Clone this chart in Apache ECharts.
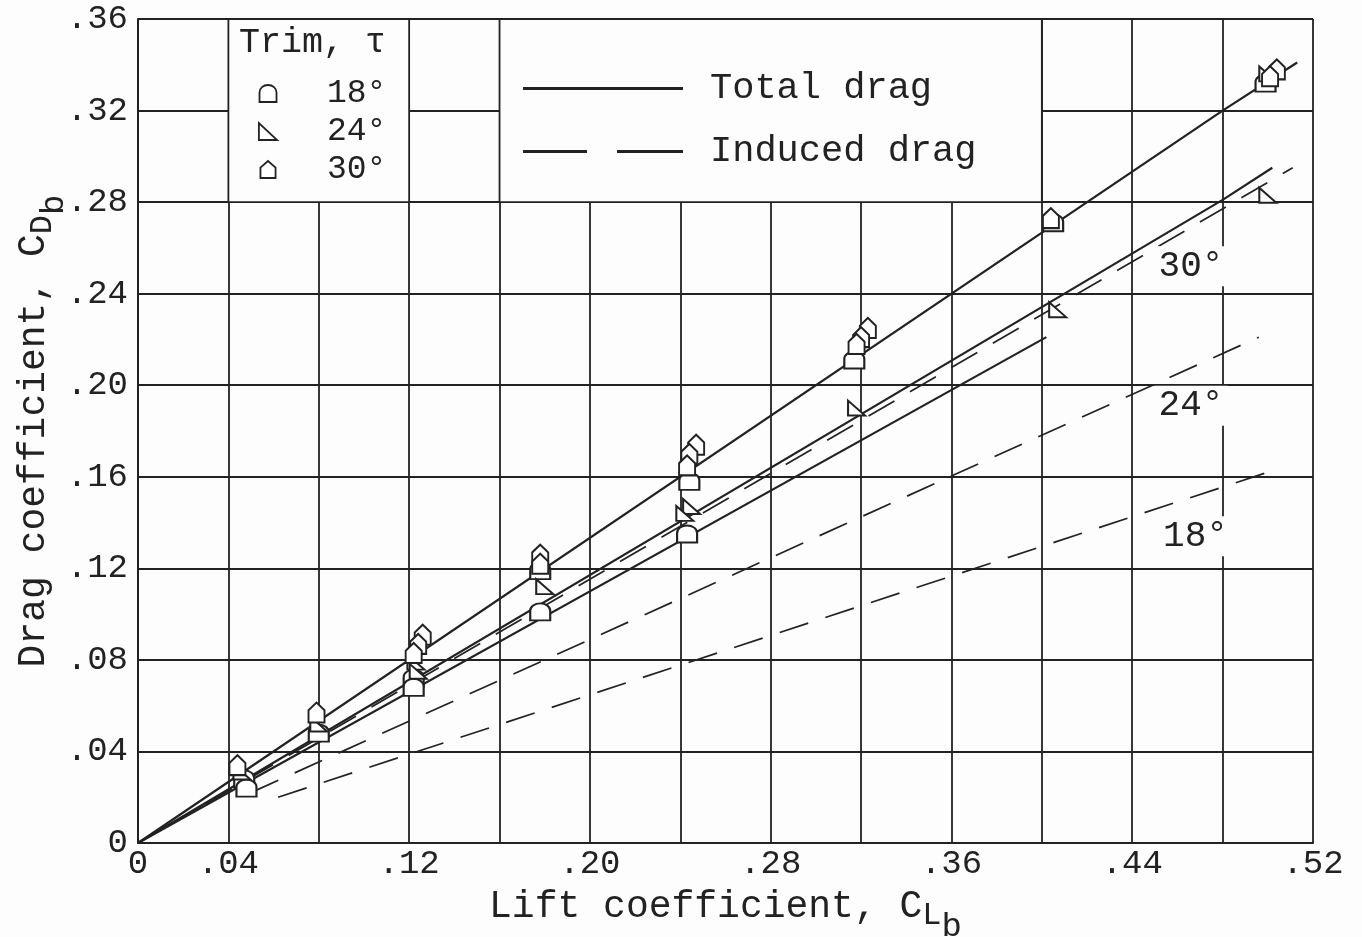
<!DOCTYPE html>
<html lang="en">
<head>
    <meta charset="UTF-8">
    <meta name="viewport" content="width=device-width, initial-scale=1.0">
    <title> Drag coefficient vs lift coefficient </title>
    <script src="https://cdn.jsdelivr.net/npm/echarts@6/dist/echarts.min.js"></script>
    <style>
      html, body { margin: 0; padding: 0; background: #fdfdfd; }
    </style>
</head>
<body>
    <div id="main" style="width: 1362px;height:937px;"></div>
    <script type="text/javascript">
      // tick labels (x axis only labels 0 then every .08 from .04)
      var xTickLabels = ['0', '.04', '', '.12', '', '.20', '', '.28', '', '.36', '', '.44', '', '.52'];
      var yTickLabels = ['0', '.04', '.08', '.12', '.16', '.20', '.24', '.28', '.32', '.36'];

      // measured points [C_Lb, C_Db] for each trim angle
      var trim18 = [[0.047, 0.028], [0.048, 0.024], [0.080, 0.048], [0.122, 0.072], [0.122, 0.068],
                    [0.178, 0.119], [0.178, 0.101], [0.244, 0.158], [0.243, 0.135], [0.317, 0.211],
                    [0.405, 0.271], [0.499, 0.332]];
      var trim24 = [[0.046, 0.031], [0.080, 0.052], [0.123, 0.079], [0.124, 0.075], [0.180, 0.112],
                    [0.245, 0.147], [0.242, 0.144], [0.318, 0.190], [0.407, 0.233], [0.500, 0.283],
                    [0.500, 0.336]];
      var trim30 = [[0.044, 0.034], [0.079, 0.057], [0.126, 0.091], [0.124, 0.087], [0.122, 0.083],
                    [0.178, 0.126], [0.178, 0.122], [0.247, 0.174], [0.244, 0.170], [0.243, 0.165],
                    [0.323, 0.225], [0.320, 0.221], [0.318, 0.218], [0.404, 0.273], [0.504, 0.338],
                    [0.501, 0.335]];

      // faired curves, total drag (solid)
      var total18 = [[0, 0], [0.402, 0.221]];
      var total24 = [[0, 0], [0.480, 0.281], [0.502, 0.295]];
      var total30 = [[0, 0], [0.480, 0.320], [0.513, 0.341]];

      // induced drag (dashed)
      var induced18 = [[0.062, 0.020], [0.500, 0.162]];
      var induced24 = [[0.050, 0.022], [0.496, 0.221]];
      var induced30 = [[0.030, 0.017], [0.511, 0.295]];

      var curveNotes = [
        { name: '30°', value: [0.466, 0.252] },
        { name: '24°', value: [0.466, 0.191] },
        { name: '18°', value: [0.468, 0.134] }
      ];

      var ink = '#222';
      var paper = '#fdfdfd';
      var mono = '"Liberation Mono", "DejaVu Sans Mono", monospace';

      var archSymbol = 'path://M0,16 L0,7 A8,7 0 0 1 16,7 L16,16 Z';
      var triSymbol = 'path://M0,0 L0,14 L15,14 Z';
      var houseSymbol = 'path://M0,7 L8,0 L16,7 L16,18 L0,18 Z';

      // subscripted axis names (C with two stepped-down subscripts)
      var nameRich = {
        a: { fontFamily: mono, fontSize: 38, color: ink, lineHeight: 42, verticalAlign: 'top' },
        b: { fontFamily: mono, fontSize: 32, color: ink, verticalAlign: 'top', padding: [12, 0, 0, 0] },
        c: { fontFamily: mono, fontSize: 34, color: ink, verticalAlign: 'top', padding: [22, 0, 0, 0] }
      };

      var myChart = echarts.init(document.getElementById('main'));

      function solidLine(data, extra) {
        var s = {
          name: 'Total drag',
          type: 'line',
          data: data,
          symbol: 'none',
          silent: true,
          lineStyle: { color: ink, width: 2.2 },
          itemStyle: { color: ink },
          z: 2
        };
        if (extra) { for (var k in extra) { s[k] = extra[k]; } }
        return s;
      }

      function dashLine(data) {
        return {
          name: 'Induced drag',
          type: 'line',
          data: data,
          symbol: 'none',
          silent: true,
          lineStyle: { color: ink, width: 1.7, type: [30, 18] },
          itemStyle: { color: ink },
          z: 2
        };
      }

      function points(name, data, symbol, size) {
        return {
          name: name,
          type: 'scatter',
          data: data,
          symbol: symbol,
          symbolSize: size,
          symbolKeepAspect: true,
          itemStyle: { color: '#fff', borderColor: ink, borderWidth: 2, opacity: 1 },
          z: 4
        };
      }

      var option = {
        backgroundColor: paper,
        animation: false,
        grid: { left: 138, right: 49, top: 19, bottom: 94, containLabel: false, outerBoundsMode: 'none' },
        title: {
          text: 'Trim, τ',
          left: 234,
          top: 20,
          textStyle: { fontFamily: mono, fontSize: 35, fontWeight: 'normal', color: ink }
        },
        legend: [
          {
            data: ['18°', '24°', '30°'],
            orient: 'vertical',
            left: 253,
            top: 72,
            itemWidth: 84,
            itemHeight: 17,
            itemGap: 5,
            selectedMode: false,
            itemStyle: { color: '#fff', borderColor: ink, borderWidth: 1.8 },
            textStyle: { fontFamily: mono, fontSize: 33, color: ink, lineHeight: 30, padding: [0, 0, 0, 12] }
          },
          {
            data: [
              { name: 'Total drag', icon: 'path://M0,0 H160 V3 H0 Z' },
              { name: 'Induced drag', icon: 'path://M0,0 H64 V3 H0 Z M94,0 H160 V3 H94 Z' }
            ],
            orient: 'vertical',
            left: 518,
            top: 65,
            itemWidth: 160,
            itemHeight: 3,
            itemGap: 26,
            selectedMode: false,
            itemStyle: { color: ink },
            textStyle: { fontFamily: mono, fontSize: 37, color: ink, lineHeight: 32, padding: [0, 0, 0, 22] }
          }
        ],
        xAxis: {
          type: 'value',
          min: 0,
          max: 0.52,
          interval: 0.04,
          name: '{a|Lift coefficient, C}{b|L}{c|b}',
          nameLocation: 'middle',
          nameGap: 45,
          nameMoveOverlap: false,
          nameTextStyle: { rich: nameRich },
          axisLine: { show: true, onZero: false, lineStyle: { color: ink, width: 2 } },
          axisTick: { show: false },
          splitLine: { show: true, lineStyle: { color: ink, width: 1.8 } },
          axisLabel: {
            fontFamily: mono,
            fontSize: 34,
            color: ink,
            margin: 4,
            formatter: function (value, index) {
              return xTickLabels[index] !== undefined ? xTickLabels[index] : '';
            }
          }
        },
        yAxis: {
          type: 'value',
          min: 0,
          max: 0.36,
          interval: 0.04,
          name: '{a|Drag coefficient, C}{b|D}{c|b}',
          nameLocation: 'middle',
          nameRotate: 90,
          nameGap: 67,
          nameMoveOverlap: false,
          nameTextStyle: { rich: nameRich },
          axisLine: { show: true, onZero: false, lineStyle: { color: ink, width: 2 } },
          axisTick: { show: false },
          splitLine: { show: true, lineStyle: { color: ink, width: 1.8 } },
          axisLabel: {
            fontFamily: mono,
            fontSize: 34,
            color: ink,
            margin: 10,
            formatter: function (value, index) {
              return yTickLabels[index] !== undefined ? yTickLabels[index] : '';
            }
          }
        },
        series: [
          // blank boxes that hold the two keys
          solidLine(total30, {
            markArea: {
              silent: true,
              itemStyle: { color: paper, opacity: 1, borderColor: ink, borderWidth: 1.8 },
              data: [
                [{ coord: [0.04, 0.28] }, { coord: [0.12, 0.36] }],
                [{ coord: [0.16, 0.28] }, { coord: [0.40, 0.36] }]
              ]
            }
          }),
          solidLine(total24),
          solidLine(total18),
          dashLine(induced30),
          dashLine(induced24),
          dashLine(induced18),
          points('18°', trim18, archSymbol, [20, 17]),
          points('24°', trim24, triSymbol, [17, 16]),
          points('30°', trim30, houseSymbol, [18, 20]),
          {
            name: 'notes',
            type: 'scatter',
            data: curveNotes,
            symbolSize: 1,
            silent: true,
            itemStyle: { color: paper, opacity: 1 },
            label: {
              show: true,
              position: 'inside',
              formatter: '{b}',
              fontFamily: mono,
              fontSize: 36,
              color: ink,
              opacity: 1,
              backgroundColor: paper,
              padding: [2, 4]
            },
            z: 5
          }
        ]
      };

      myChart.setOption(option);
    </script>
</body>
</html>
